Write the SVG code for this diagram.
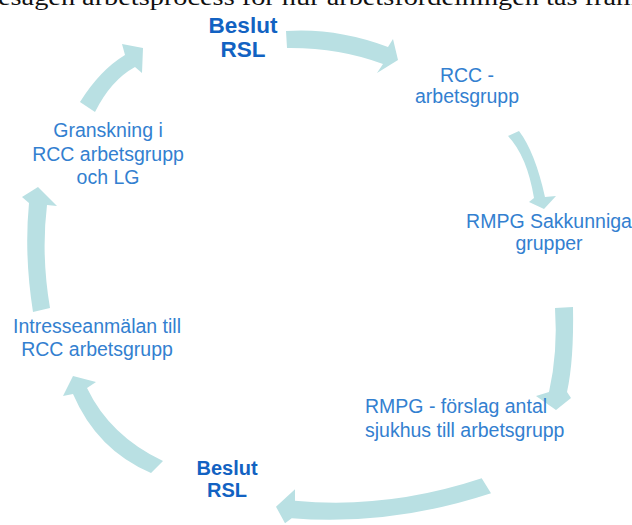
<svg xmlns="http://www.w3.org/2000/svg" width="632" height="525" viewBox="0 0 632 525">
<style>
.arr{fill:#b9e0e3;stroke:none}
.t{font-family:"Liberation Sans",Arial,sans-serif;font-size:19.5px;fill:#3380d0}
.b{font-family:"Liberation Sans",Arial,sans-serif;font-weight:bold;fill:#1262c2}
.cap{font-family:"Liberation Serif","Times New Roman",serif;font-size:24px;fill:#111}
</style>
<rect width="632" height="525" fill="#ffffff"/>
<text class="cap" x="-2" y="5" textLength="640" lengthAdjust="spacingAndGlyphs">esagen arbetsprocess för hur arbetsfördelningen tas fram</text>
<g id="connectors">
<path class="arr" d="M286,31 Q336.4,27.6 388,47 L393,39 L398,60 L377,73 L383,64 Q338.4,47.4 287,48 Z"/>
<path class="arr" d="M508,136 L519,131 Q535,152 545,197 L556,196 L544,209 L529,202 L534,198 Q527,156 508,136 Z"/>
<path class="arr" d="M555,308 L573,307 Q574,360 567,392 L571,398 L556,410 L536,396 L549,392 Q558,352 555,308 Z"/>
<path class="arr" d="M481.7,478.3 Q387.6,509.5 295,500.7 L295,489.3 L276,506.7 L285,523.3 L291.7,518.3 Q390.6,526.2 491,493.3 Z"/>
<path class="arr" d="M73,376 L96,382 L87,388 Q110,436 163,461 L151,473 Q97,450 73,394 L63,396 Z"/>
<path class="arr" d="M38,187 L57,206 L47,205 Q41,255 50,308 L33,312 Q24,255 29,203 L22,197 Z"/>
<path class="arr" d="M143,48 L142,73 L135,67 Q111,80 95,112 L80,102 Q100,70 125,55 L122,44 Z"/>
</g>
<g id="beslut-top">
<text class="b" font-size="22.5" x="243" y="33" text-anchor="middle">Beslut</text>
<text class="b" font-size="22.5" x="243" y="57" text-anchor="middle">RSL</text>
</g>
<g id="rcc">
<text class="t" x="467" y="82" text-anchor="middle">RCC -</text>
<text class="t" x="467" y="103" text-anchor="middle">arbetsgrupp</text>
</g>
<g id="rmpg-sakkunniga">
<text class="t" x="549" y="228" text-anchor="middle">RMPG Sakkunniga</text>
<text class="t" x="549" y="250" text-anchor="middle">grupper</text>
</g>
<g id="rmpg-forslag">
<text class="t" x="365" y="413">RMPG - förslag antal</text>
<text class="t" x="365" y="437">sjukhus till arbetsgrupp</text>
</g>
<g id="beslut-bottom">
<text class="b" font-size="20" x="227" y="475" text-anchor="middle">Beslut</text>
<text class="b" font-size="20" x="227" y="497" text-anchor="middle">RSL</text>
</g>
<g id="intresseanmalan">
<text class="t" x="97" y="333" text-anchor="middle">Intresseanmälan till</text>
<text class="t" x="97" y="356" text-anchor="middle">RCC arbetsgrupp</text>
</g>
<g id="granskning">
<text class="t" x="108" y="137" text-anchor="middle">Granskning i</text>
<text class="t" x="108" y="161" text-anchor="middle">RCC arbetsgrupp</text>
<text class="t" x="108" y="184" text-anchor="middle">och LG</text>
</g>
</svg>
